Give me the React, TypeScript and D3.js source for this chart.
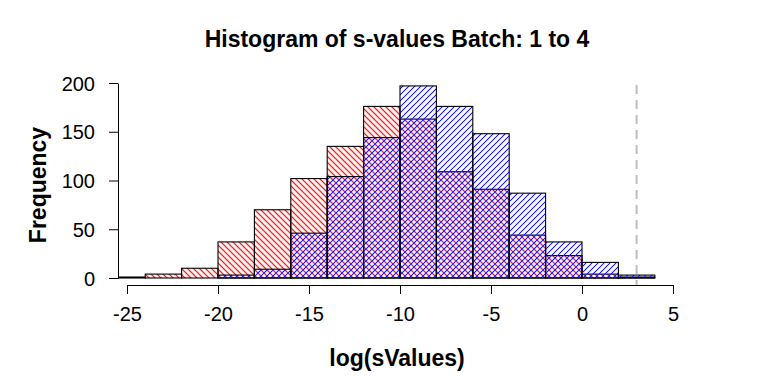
import React, { useRef, useEffect } from "react";
import { select, scaleLinear, axisBottom, axisLeft } from "d3";

// histogram bins (left edges), width 2
const binStarts = [-26, -24, -22, -20, -18, -16, -14, -12, -10, -8, -6, -4, -2, 0, 2];
const binWidth = 2;
const redCounts = [1, 4, 10, 37, 70, 102, 135, 176, 163, 109, 91, 44, 23, 4, 1];
const blueCounts = [0, 0, 0, 3, 9, 46, 104, 144, 197, 176, 148, 87, 37, 16, 3];
const xTicks = [-25, -20, -15, -10, -5, 0, 5];
const yTicks = [0, 50, 100, 150, 200];
const cutoff = 3;

const titleText = "Histogram of s-values Batch: 1 to 4";
const xLabelText = "log(sValues)";
const yLabelText = "Frequency";

const FONT = "'Liberation Sans', Arial, Helvetica, sans-serif";

const App: React.FC = () => {
  const d3Element = useRef<SVGSVGElement | null>(null);

  useEffect(() => {
    const svg = select(d3Element.current);
    svg.selectAll("*").remove();

    const plotTop = 85;
    const plotBottom = 285;
    const plotLeft = 118;
    const plotRight = 690;

    const xScale = scaleLinear().domain([-25, 5]).range([127, 673]);
    const yScale = scaleLinear().domain([0, 200]).range([278, 83]);

    const defs = svg.append("defs");
    // hatch lines about 6px apart horizontally (≈4.24 perpendicular)
    const hatch = (id: string, color: string, angle: number, lw: number) => {
      const w = 6 / Math.SQRT2;
      const p = defs
        .append("pattern")
        .attr("id", id)
        .attr("patternUnits", "userSpaceOnUse")
        .attr("width", w)
        .attr("height", w)
        .attr("patternTransform", `rotate(${angle})`);
      p.append("line")
        .attr("x1", w / 2)
        .attr("y1", -1)
        .attr("x2", w / 2)
        .attr("y2", w + 1)
        .attr("stroke", color)
        .attr("stroke-width", lw);
    };
    hatch("hatchRed", "#ff1a1a", -45, 1.3);
    hatch("hatchBlue", "#1a1aff", 45, 1);

    defs
      .append("clipPath")
      .attr("id", "plotClip")
      .append("rect")
      .attr("x", plotLeft)
      .attr("y", 0)
      .attr("width", plotRight - plotLeft)
      .attr("height", plotBottom);

    const bars = svg.append("g").attr("clip-path", "url(#plotClip)");

    const drawBars = (counts: number[], fill: string) => {
      bars
        .append("g")
        .selectAll("rect")
        .data(binStarts.map((s, i) => ({ s, c: counts[i] })))
        .enter()
        .append("rect")
        .attr("x", (d: any) => xScale(d.s))
        .attr("width", (d: any) => xScale(d.s + binWidth) - xScale(d.s))
        .attr("y", (d: any) => yScale(d.c))
        .attr("height", (d: any) => yScale(0) - yScale(d.c))
        .attr("fill", fill)
        .attr("stroke", "#000")
        .attr("stroke-width", 1.1);
    };
    drawBars(redCounts, "url(#hatchRed)");
    drawBars(blueCounts, "url(#hatchBlue)");

    // cutoff line
    svg
      .append("line")
      .attr("x1", xScale(cutoff))
      .attr("x2", xScale(cutoff))
      .attr("y1", plotTop)
      .attr("y2", plotBottom)
      .attr("stroke", "#bebebe")
      .attr("stroke-width", 2)
      .attr("stroke-dasharray", "9,6");

    const xAxisG = svg
      .append("g")
      .attr("transform", `translate(0,${plotBottom})`)
      .call(
        axisBottom(xScale)
          .tickValues(xTicks)
          .tickSize(9)
          .tickSizeOuter(0)
          .tickPadding(13)
          .tickFormat((d: any) => String(d))
      );
    xAxisG.attr("font-family", FONT).attr("font-size", 20);

    const yAxisG = svg
      .append("g")
      .attr("transform", `translate(${plotLeft},0)`)
      .call(
        axisLeft(yScale)
          .tickValues(yTicks)
          .tickSize(9)
          .tickSizeOuter(0)
          .tickPadding(14)
          .tickFormat((d: any) => String(d))
      );
    yAxisG.attr("font-family", FONT).attr("font-size", 20);
    yAxisG.selectAll("text").attr("dy", "0.36em");

    svg
      .append("text")
      .attr("x", 397)
      .attr("y", 47)
      .attr("text-anchor", "middle")
      .attr("font-family", FONT)
      .attr("font-weight", "bold")
      .attr("font-size", 23)
      .text(titleText);

    svg
      .append("text")
      .attr("x", 397)
      .attr("y", 366)
      .attr("text-anchor", "middle")
      .attr("font-family", FONT)
      .attr("font-weight", "bold")
      .attr("font-size", 23)
      .text(xLabelText);

    svg
      .append("text")
      .attr("transform", `translate(46,${(plotTop + plotBottom) / 2}) rotate(-90)`)
      .attr("text-anchor", "middle")
      .attr("font-family", FONT)
      .attr("font-weight", "bold")
      .attr("font-size", 23)
      .text(yLabelText);
  }, []);

  return (
    <svg
      ref={d3Element}
      width={768}
      height={384}
      style={{ position: "absolute", left: 0, top: 0, background: "#fff" }}
    />
  );
};

export default App;
